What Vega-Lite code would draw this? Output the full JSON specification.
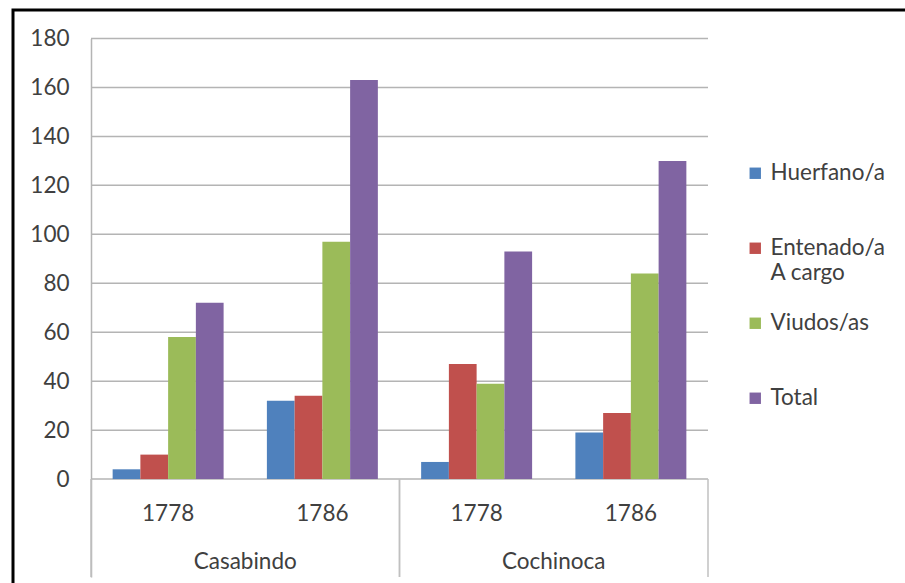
{
  "$schema": "https://vega.github.io/schema/vega-lite/v6.json",
  "usermeta": {"embedOptions": {"actions": false}},
  "width": 892,
  "height": 573,
  "autosize": {"type": "none"},
  "padding": {"left": 13, "top": 10, "right": 0, "bottom": 0},
  "background": "white",
  "view": {"stroke": "black", "strokeWidth": 3, "strokeDash": [892, 1465, 573, 1]},
  "config": {
    "view": {"stroke": "black", "strokeWidth": 3, "strokeDash": [892, 1465, 573, 1]},
    "font": "Lato",
    "text": {"font": "Lato", "fontSize": 22.5, "color": "#404040"},
    "axis": {"labelFont": "Lato"},
    "legend": {"labelFont": "Lato"}
  },
  "datasets": {
    "poblacion": [
      {"lugar": "Casabindo", "año": "1778", "serie": "Huerfano/a", "valor": 4},
      {"lugar": "Casabindo", "año": "1778", "serie": "Entenado/a A cargo", "valor": 10},
      {"lugar": "Casabindo", "año": "1778", "serie": "Viudos/as", "valor": 58},
      {"lugar": "Casabindo", "año": "1778", "serie": "Total", "valor": 72},
      {"lugar": "Casabindo", "año": "1786", "serie": "Huerfano/a", "valor": 32},
      {"lugar": "Casabindo", "año": "1786", "serie": "Entenado/a A cargo", "valor": 34},
      {"lugar": "Casabindo", "año": "1786", "serie": "Viudos/as", "valor": 97},
      {"lugar": "Casabindo", "año": "1786", "serie": "Total", "valor": 163},
      {"lugar": "Cochinoca", "año": "1778", "serie": "Huerfano/a", "valor": 7},
      {"lugar": "Cochinoca", "año": "1778", "serie": "Entenado/a A cargo", "valor": 47},
      {"lugar": "Cochinoca", "año": "1778", "serie": "Viudos/as", "valor": 39},
      {"lugar": "Cochinoca", "año": "1778", "serie": "Total", "valor": 93},
      {"lugar": "Cochinoca", "año": "1786", "serie": "Huerfano/a", "valor": 19},
      {"lugar": "Cochinoca", "año": "1786", "serie": "Entenado/a A cargo", "valor": 27},
      {"lugar": "Cochinoca", "año": "1786", "serie": "Viudos/as", "valor": 84},
      {"lugar": "Cochinoca", "año": "1786", "serie": "Total", "valor": 130}
    ],
    "marcas": [
      {"v": 0}, {"v": 20}, {"v": 40}, {"v": 60}, {"v": 80},
      {"v": 100}, {"v": 120}, {"v": 140}, {"v": 160}, {"v": 180}
    ]
  },
  "resolve": {"scale": {"x": "independent"}},
  "layer": [
    {
      "data": {"name": "marcas"},
      "mark": {"type": "rule", "color": "#b4b4b4", "strokeWidth": 1.5},
      "encoding": {
        "x": {"datum": 0, "type": "quantitative", "scale": {"domain": [0, 1], "range": [78, 695]}, "axis": null},
        "x2": {"datum": 1},
        "y": {
          "field": "v",
          "type": "quantitative",
          "scale": {"domain": [-40, 180], "range": [567, 28.5], "nice": false, "zero": false},
          "axis": {
            "offset": -78,
            "values": [0, 20, 40, 60, 80, 100, 120, 140, 160, 180],
            "grid": false,
            "ticks": false,
            "title": null,
            "domainColor": "#b4b4b4",
            "domainWidth": 1.5,
            "labelFontSize": 22.5,
            "labelColor": "#404040",
            "labelPadding": 22
          }
        }
      }
    },
    {
      "data": {"name": "poblacion"},
      "transform": [
        {"calculate": "datum.lugar + ' ' + datum['año']", "as": "categoria"}
      ],
      "layer": [
        {
          "mark": {"type": "bar"},
          "encoding": {
            "x": {
              "field": "categoria",
              "type": "nominal",
              "scale": {
                "domain": ["Casabindo 1778", "Casabindo 1786", "Cochinoca 1778", "Cochinoca 1786"],
                "range": [78, 695],
                "paddingInner": 0,
                "paddingOuter": 0
              },
              "axis": null
            },
            "xOffset": {
              "field": "serie",
              "type": "nominal",
              "scale": {
                "domain": ["Huerfano/a", "Entenado/a A cargo", "Viudos/as", "Total"],
                "paddingInner": 0,
                "paddingOuter": 0.78
              }
            },
            "y": {"field": "valor", "type": "quantitative"},
            "color": {
              "field": "serie",
              "type": "nominal",
              "scale": {
                "domain": ["Huerfano/a", "Entenado/a A cargo", "Viudos/as", "Total"],
                "range": ["#4f81bd", "#c0504d", "#9bbb59", "#8064a2"]
              },
              "legend": {
                "title": null,
                "orient": "none",
                "legendX": 731,
                "legendY": 152,
                "padding": 0,
                "gridAlign": "all",
                "symbolType": "square",
                "symbolSize": 130,
                "symbolStrokeWidth": 0,
                "labelFontSize": 22.5,
                "labelColor": "#404040",
                "labelOffset": 4,
                "rowPadding": 27,
                "labelExpr": "datum.label == 'Entenado/a A cargo' ? ['Entenado/a', 'A cargo'] : datum.label"
              }
            }
          }
        },
        {
          "transform": [{"filter": "datum.serie == 'Total'"}],
          "mark": {"type": "text", "baseline": "middle"},
          "encoding": {
            "x": {"field": "categoria", "type": "nominal"},
            "y": {"datum": -14.2},
            "text": {"field": "año", "type": "nominal"}
          }
        },
        {
          "transform": [{"filter": "datum.serie == 'Total' && datum['año'] == '1786'"}],
          "mark": {"type": "text", "baseline": "middle"},
          "encoding": {
            "x": {"field": "categoria", "type": "nominal", "bandPosition": 0},
            "y": {"datum": -33.8},
            "text": {"field": "lugar", "type": "nominal"}
          }
        },
        {
          "transform": [{"filter": "datum.serie == 'Total' && datum['año'] == '1778'"}],
          "mark": {"type": "rule", "color": "#c0c0c0", "strokeWidth": 1.5},
          "encoding": {
            "x": {"field": "categoria", "type": "nominal", "bandPosition": 0},
            "y": {"datum": 0},
            "y2": {"datum": -40}
          }
        },
        {
          "transform": [{"filter": "datum.serie == 'Total' && datum['año'] == '1786'"}],
          "mark": {"type": "rule", "color": "#c0c0c0", "strokeWidth": 1.5},
          "encoding": {
            "x": {"field": "categoria", "type": "nominal", "bandPosition": 1},
            "y": {"datum": 0},
            "y2": {"datum": -40}
          }
        }
      ]
    }
  ]
}
